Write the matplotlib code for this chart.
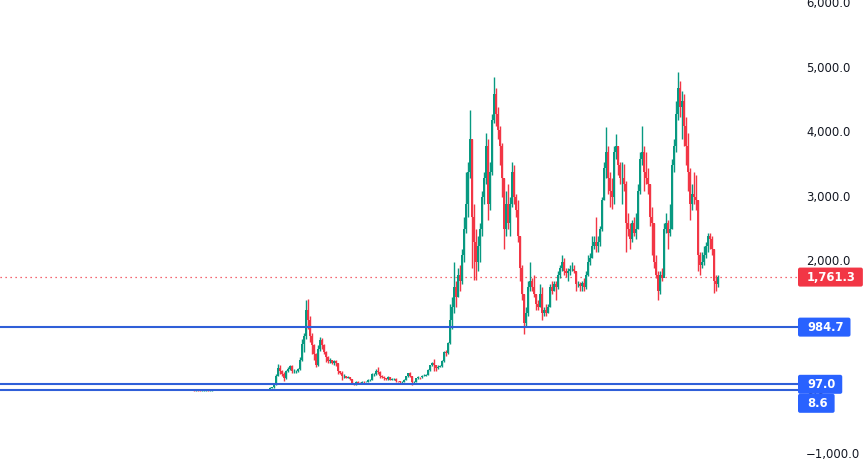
import matplotlib
matplotlib.use("Agg")
import matplotlib.pyplot as plt
from matplotlib.patches import FancyBboxPatch
from matplotlib.transforms import blended_transform_factory
import numpy as np

# ---------------- data (semi-monthly candles, ETH/USD) ----------------
closes = [
    2.8, 1.2, 0.9, 1.0, 0.9, 0.8, 0.9, 0.9, 1.0, 0.9,
    1.0, 1.3, 2.5, 5.5, 6.5, 11, 11, 8.5, 10, 13,
    14, 14, 11, 12, 11, 12, 11, 12, 13, 10,
    9, 8, 8, 8, 10, 10.5, 11, 13, 16,
    20, 45, 50, 80, 230, 350, 300, 260, 200, 300,
    340, 380, 300, 300, 300, 330, 470, 720, 850, 1250,
    1100, 850, 700, 560, 400, 650, 780, 700, 600, 520,
    460, 470, 430, 460, 420, 300, 280, 220, 230, 200,
    210, 180, 110, 90, 130, 120, 110, 140, 135, 140,
    160, 165, 250, 260, 300, 290, 220, 210, 190, 180,
    210, 170, 180, 180, 150, 145, 130, 140, 170, 220,
    265, 220, 130, 135, 190, 210, 205, 230, 230, 240,
    320, 390, 430, 400, 350, 370, 380, 460, 600, 590,
    740, 1100, 1300, 1600, 1450, 1800, 1700, 2100, 2500, 2900,
    3400, 3900, 2700, 2300, 2000, 2250, 2500, 3000, 3300, 3800,
    2900, 3400, 4200, 4600, 4300, 4050, 3800, 3300, 2500, 2900,
    2600, 2900, 3400, 3000, 2800, 2400, 1900, 1500, 1050, 1200,
    1600, 1700, 1600, 1500, 1350, 1300, 1500, 1200, 1250, 1200,
    1300, 1600, 1550, 1650, 1600, 1800, 1900, 2000, 1850, 1820,
    1850, 1880, 1880, 1850, 1650, 1650, 1620, 1670, 1600, 1800,
    2000, 2050, 2250, 2300, 2250, 2300, 2500, 2950, 3450, 3700,
    3300, 3100, 3000, 3700, 3800, 3500, 3300, 3300, 3200, 2600,
    2500, 2350, 2600, 2450, 2500, 3100, 3600, 3700, 3400, 3300,
    3200, 2700, 2600, 2000, 1800, 1550, 1800, 1750, 2500, 2600,
    2450, 2500, 3500, 3800, 4300, 4700, 4400, 4500, 4100, 3800,
    3400, 2900, 3050, 3000, 2950, 2100, 1950, 2000, 2100, 2250,
    2400, 2350, 2200, 1700, 1650, 1761.3,
]
highs = [
    3.0, 2.8, 1.3, 1.4, 1.2, 1.1, 1.1, 1.0, 1.1, 1.0,
    1.1, 1.5, 2.8, 6.5, 7.5, 12, 12, 11, 10.5, 14,
    15, 21, 14, 13, 12, 13, 12, 13, 14, 13,
    10, 9, 9, 9, 10.5, 11, 12, 14, 19,
    22, 50, 55, 90, 260, 410, 400, 320, 290, 320,
    370, 400, 390, 330, 320, 350, 520, 800, 900, 1400,
    1420, 1150, 900, 720, 580, 700, 830, 820, 720, 620,
    530, 510, 480, 480, 470, 420, 310, 300, 250, 230,
    225, 215, 185, 120, 150, 150, 130, 150, 145, 150,
    180, 185, 270, 280, 330, 360, 300, 240, 220, 200,
    220, 210, 190, 200, 190, 155, 150, 150, 175, 230,
    280, 285, 230, 150, 200, 220, 215, 245, 250, 250,
    330, 400, 440, 490, 400, 390, 400, 480, 620, 630,
    750, 1350, 1450, 2000, 1700, 1900, 1950, 2200, 2700, 3400,
    3550, 4360, 3900, 2900, 2500, 2400, 2600, 3100, 3400, 4000,
    3900, 3550, 4300, 4870, 4700, 4400, 4100, 3850, 3300, 3100,
    3200, 3000, 3550, 3500, 3050, 2950, 2400, 1950, 1500, 1300,
    1700, 2000, 1750, 1800, 1500, 1400, 1650, 1600, 1300, 1350,
    1350, 1650, 1700, 1700, 1700, 1850, 1950, 2100, 2050, 1900,
    1900, 1950, 2000, 1950, 1860, 1700, 1680, 1700, 1750, 1850,
    2100, 2130, 2400, 2400, 2700, 2400, 2550, 3000, 3550, 4090,
    3800, 3400, 3300, 3800, 3980, 3800, 3550, 3550, 3520, 3250,
    2750, 2600, 2650, 2700, 2750, 3200, 3700, 4100, 3800, 3700,
    3450, 3200, 2850, 2600, 2100, 1850, 1850, 1900, 2600, 2750,
    2650, 2900, 3600, 3900, 4500, 4950, 4800, 4650, 4600, 4250,
    4000, 3450, 3200, 3400, 3350, 2950, 2150, 2150, 2250, 2300,
    2450, 2450, 2400, 2200, 1800, 1800,
]
lows = [
    1.0, 1.0, 0.7, 0.8, 0.8, 0.7, 0.8, 0.8, 0.8, 0.8,
    0.9, 0.9, 1.2, 2.4, 5.5, 6.2, 9.5, 7, 8, 9.5,
    12.5, 11, 9, 10, 10, 11, 10, 11, 11, 9.5,
    8, 7, 7, 7.5, 8, 9.5, 10, 10.5, 12,
    15, 18, 40, 45, 80, 220, 250, 230, 150, 180,
    290, 320, 270, 270, 280, 290, 320, 460, 600, 800,
    950, 750, 570, 480, 360, 380, 620, 650, 560, 450,
    420, 430, 410, 400, 380, 260, 250, 170, 200, 190,
    195, 170, 100, 85, 85, 110, 100, 105, 125, 130,
    135, 150, 160, 230, 240, 260, 200, 190, 170, 170,
    170, 160, 160, 170, 140, 135, 120, 125, 130, 165,
    215, 210, 90, 110, 130, 180, 185, 200, 220, 220,
    235, 310, 380, 310, 310, 340, 360, 370, 450, 530,
    570, 720, 950, 1200, 1300, 1450, 1550, 1650, 2000, 2450,
    2700, 3300, 1900, 1720, 1720, 1850, 2000, 2400, 2900, 3200,
    2650, 2800, 3350, 4150, 4100, 3900, 3500, 3000, 2200, 2400,
    2500, 2400, 2850, 2900, 2700, 2300, 1700, 1400, 880, 1000,
    1150, 1550, 1550, 1450, 1250, 1250, 1300, 1100, 1150, 1150,
    1200, 1300, 1500, 1550, 1400, 1580, 1750, 1850, 1800, 1760,
    1700, 1800, 1850, 1830, 1550, 1600, 1540, 1550, 1550, 1580,
    1780, 1950, 2050, 2200, 2150, 2150, 2250, 2480, 2950, 3300,
    3050, 2850, 2820, 2900, 3600, 3350, 3200, 2900, 3100, 2150,
    2400, 2200, 2300, 2400, 2350, 2500, 3050, 3500, 3100, 3200,
    3050, 2550, 2100, 1900, 1750, 1400, 1500, 1700, 1800, 2450,
    2200, 2400, 2500, 3400, 3700, 4200, 4250, 3900, 3800, 3500,
    3100, 2650, 2800, 2900, 2800, 1850, 1800, 1900, 1950, 2050,
    2150, 2200, 2100, 1520, 1550, 1600,
]
first_open = 2.8
levels = [984.7, 97.0, 8.6]
last_price = 1761.3
y_ticks = [6000, 5000, 4000, 3000, 2000, 1000, 0, -1000]

assert len(closes) == len(highs) == len(lows)

# ---------------- style ----------------
UP = "#089981"
DOWN = "#F23645"
LINE_BLUE = "#2F5FD8"
TAG_BLUE = "#2962FF"
W, H = 868, 468

fig = plt.figure(figsize=(W / 100, H / 100), dpi=100)
fig.patch.set_facecolor("white")
ax = fig.add_axes([0, 0, 798 / W, 1])
ax.set_xlim(-95, 304)
ax.set_ylim(-1202, 6062)
ax.axis("off")

c = np.array(closes, dtype=float)
h = np.array(highs, dtype=float)
l = np.array(lows, dtype=float)
o = np.concatenate([[first_open], c[:-1]])
x = np.arange(len(c))
cols = np.where(c >= o, UP, DOWN)

ax.vlines(x, l, h, colors=cols, linewidth=1.0, zorder=3)
ax.bar(x, c - o, bottom=o, width=1.0, color=cols, linewidth=0, zorder=3)

# horizontal levels
for lv in levels:
    ax.axhline(lv, color=LINE_BLUE, linewidth=1.5, zorder=4)
ax.axhline(last_price, color=DOWN, linewidth=0.9, linestyle=(0, (1, 3)), zorder=2)

# y tick labels on right
tr = blended_transform_factory(fig.transFigure, ax.transData)
for v in y_ticks:
    s = f"{v:,.1f}".replace("-", "\u2212")
    ax.text(806 / W, v, s, transform=tr, ha="left", va="center",
            fontsize=8.4, color="#131722", clip_on=False, zorder=2,
            family="DejaVu Sans")

# price tags
tags = [(last_price, DOWN)] + [(lv, TAG_BLUE) for lv in levels]
tags.sort(key=lambda t: -t[0])
box_h = 19
prev_c = None
placed = []
for val, col in tags:
    cy = ax.transData.transform((0, val))[1]  # pixels from bottom
    if prev_c is not None and prev_c - cy < box_h:
        cy = prev_c - box_h
    prev_c = cy
    txt = f"{val:,.1f}"
    t = fig.text(807 / W, cy / H, txt, ha="left", va="center", fontsize=8.3,
                 color="white", fontweight="bold", zorder=6)
    placed.append((t, cy, col))

fig.canvas.draw()
for t, cy, col in placed:
    bb = t.get_window_extent()
    wbox = bb.x1 + 7 - 798
    patch = FancyBboxPatch((798, cy - box_h / 2), wbox, box_h,
                           boxstyle="round,pad=0,rounding_size=2",
                           transform=None, facecolor=col, edgecolor="none",
                           zorder=5)
    fig.add_artist(patch)

fig.savefig("out.png", dpi=100, facecolor="white")
